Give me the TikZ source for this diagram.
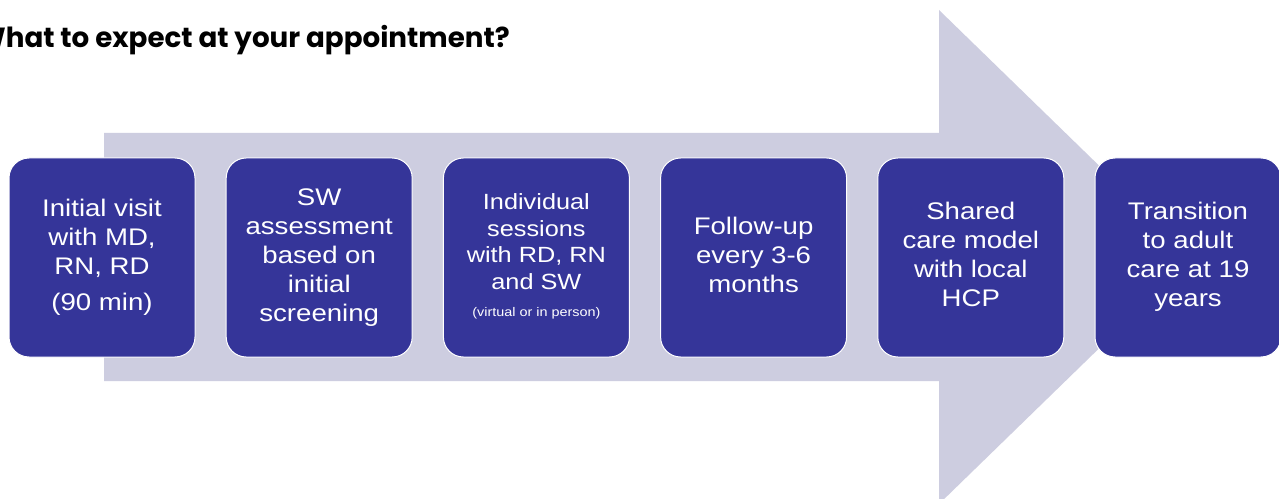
\documentclass[tikz,border=0pt]{standalone}
\usepackage{fontspec}
\setmainfont{Liberation Sans}
\newfontfamily\titlefont{Poppins}
\usepackage{graphicx}
\usepackage{tikz}

\definecolor{boxblue}{RGB}{53,53,153}
\definecolor{arrowgrey}{RGB}{205,205,224}

% box text is a little wider than it is tall
\newcommand{\steptext}[1]{\scalebox{1.15}[1]{\begin{tabular}{@{}c@{}}#1\end{tabular}}}

\begin{document}
\begin{tikzpicture}[x=0.75pt,y=0.75pt,yscale=-1,xscale=1,
	stepbox/.style={draw=white, line width=0.75pt, fill=boxblue, rounded corners=15pt, minimum width=139.5pt, minimum height=149.25pt, inner sep=0pt, text=white, font=\fontsize{18}{21.75}\selectfont}]
	%set diagram size 1279 x 499
	\fill[white] (0,0) rectangle (1279,499);
	\useasboundingbox (0,0) rectangle (1279,499);
	
	%Arrow Shape
	\fill [arrowgrey] (104,133) -- (939,133) -- (939,10) -- (1193,257) -- (939,504) -- (939,381) -- (104,381) -- cycle ;
	
	% Text Node
	\draw (510,48) node [anchor=base east][inner sep=0pt] (title) {\titlefont\bfseries\fontsize{20.8}{25}\selectfont What to expect at your appointment?};
	
	%Rounded Rect
	\draw (102,257.5) node [stepbox] (visit) {\steptext{Initial visit\\with MD,\\RN, RD\\[5pt](90 min)}};
	%Rounded Rect
	\draw (319.2,257.5) node [stepbox] (assess) {\steptext{SW\\assessment\\based on\\initial\\screening}};
	%Rounded Rect
	\draw (536.4,257.5) node [stepbox, font=\fontsize{16.5}{20}\selectfont] (sessions) {\steptext{Individual\\sessions\\with RD, RN\\and SW\\{\fontsize{9.4}{11}\selectfont (virtual or in person)}}};
	%Rounded Rect
	\draw (753.6,257.5) node [stepbox] (followup) {\steptext{Follow-up\\every 3-6\\months}};
	%Rounded Rect
	\draw (970.8,257.5) node [stepbox] (shared) {\steptext{Shared\\care model\\with local\\HCP}};
	%Rounded Rect
	\draw (1188,257.5) node [stepbox] (transition) {\steptext{Transition\\to adult\\care at 19\\years}};
	
\end{tikzpicture}
\end{document}
